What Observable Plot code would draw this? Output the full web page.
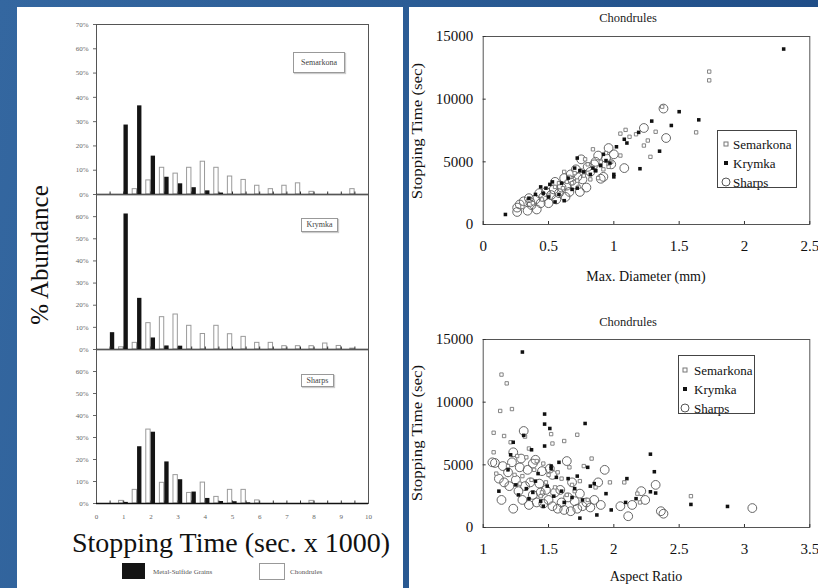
<!DOCTYPE html>
<html><head><meta charset="utf-8">
<script src="https://cdn.jsdelivr.net/npm/d3@7"></script>
<script src="https://cdn.jsdelivr.net/npm/@observablehq/plot@0.6"></script>
<style>
html,body{margin:0;padding:0;background:#244f86;}
#root{position:relative;width:818px;height:588px;overflow:hidden;
 background:linear-gradient(100deg,#3467a0 0%,#2b5c95 45%,#1d4a84 100%);
 font-family:"Liberation Serif","Times New Roman",serif;}
.panel{position:absolute;background:#fff;}
.abs{position:absolute;white-space:nowrap;line-height:1;}
.plot{position:absolute;}
.lbox{position:absolute;border:1px solid #444;overflow:visible;}
.tag{position:absolute;border:1px solid #999;box-shadow:1px 1px 1px #ccc;font-size:8px;color:#444;line-height:1;padding:0;text-align:center;background:#fff;}
</style></head><body><div id="root">
<div class="panel" style="left:17px;top:7px;width:386px;height:581px"></div>
<div class="panel" style="left:409px;top:7px;width:409px;height:581px"></div>
</div>
<script>
// ---------- Histogram data (% abundance per 500 s bin) ----------
const bins = [0.5,1,1.5,2,2.5,3,3.5,4,4.5,5,5.5,6,6.5,7,7.5,8,8.5,9,9.5];
const yTicksTop = [0,10,20,30,40,50,60,70];
const yTicksLow = [0,10,20,30,40,50,60];
const xTicksHist = [0,1,2,3,4,5,6,7,8,9,10];
const semarkonaMetal = [0,28.6,36.5,15.8,7.1,4.4,2.8,1.5,0.6,0,0,0,0,0,0,0,0,0,0];
const semarkonaChond = [0,0,2.2,5.8,11,8.6,11,13.5,11,7.4,6,3.6,2.2,3.6,4.6,1.1,0,0,2.2];
const krymkaMetal = [7.6,61.2,23.1,5.2,1.6,1.5,0,0,0,0,0,0,0,0,0,0,0,0,0];
const krymkaChond = [0,1,3,11.9,14.6,15.8,10.7,7,10.7,6.9,5.7,3,3,1.5,1.5,1.5,2.7,1.6,0.4];
const sharpsMetal = [0,0.5,25.8,32.4,18.9,10.8,5.2,2.3,0.9,0.8,0.3,0,0,0,0,0,0,0,0];
const sharpsChond = [0,1.2,6.2,33.6,9.4,12.9,4.8,9.5,3,6.2,6.2,1.4,0,0,0,1.2,0,0,0];
const histNames = ["Semarkona","Krymka","Sharps"];
const histLegend = ["Metal-Sulfide Grains","Chondrules"];

// ---------- Scatter data: [max diameter (mm), stopping time (s)] ----------
const diaSemarkona = [[0.30,1400],[0.38,1700],[0.45,2000],[0.50,2300],[0.55,3000],[0.58,3300],[0.61,2900],[0.62,4200],[0.64,3400],[0.66,3800],[0.68,3300],[0.70,4100],[0.72,3500],[0.73,3000],[0.75,4300],[0.77,3900],[0.78,5200],[0.80,4800],[0.82,3600],[0.84,6000],[0.86,4300],[0.88,3700],[0.90,5000],[0.92,4400],[0.94,5700],[0.96,4600],[0.98,5000],[1.05,5500],[1.05,7250],[1.09,7550],[1.12,7000],[1.17,7200],[1.23,6300],[1.26,6700],[1.28,5400],[1.32,7400],[1.37,9400],[1.63,7350],[1.73,12200],[1.73,11500]];
const diaKrymka = [[0.17,800],[0.35,2100],[0.40,2400],[0.44,3000],[0.46,2500],[0.48,2900],[0.50,2200],[0.51,3200],[0.53,3400],[0.55,1800],[0.58,2400],[0.60,3300],[0.62,1900],[0.65,3700],[0.68,2800],[0.70,4500],[0.72,2900],[0.72,5300],[0.74,4300],[0.77,4200],[0.82,4000],[0.84,4500],[0.86,4300],[0.90,4700],[0.92,5600],[0.94,5100],[0.97,4900],[1.00,4000],[1.00,3800],[1.02,6200],[1.08,6800],[1.10,6500],[1.19,7350],[1.20,4450],[1.29,8250],[1.35,5850],[1.44,7900],[1.50,9000],[1.65,8350],[2.30,14000]];
const diaSharps = [[0.26,1000],[0.26,1350],[0.28,1600],[0.31,1850],[0.34,1100],[0.35,2100],[0.36,1800],[0.37,1550],[0.40,2000],[0.41,1200],[0.43,2500],[0.44,1700],[0.46,2200],[0.48,2600],[0.50,1700],[0.52,2350],[0.54,2800],[0.55,3400],[0.56,2000],[0.58,2500],[0.60,2950],[0.62,3700],[0.63,2200],[0.64,3100],[0.66,2600],[0.67,4000],[0.68,3500],[0.70,3200],[0.71,4400],[0.72,3800],[0.74,2600],[0.75,5200],[0.76,3600],[0.79,2950],[0.80,4600],[0.82,4200],[0.85,4800],[0.86,5000],[0.88,5500],[0.90,3650],[0.92,3800],[0.94,5300],[0.96,6100],[0.98,4800],[1.00,5600],[1.08,4500],[1.23,7700],[1.38,9250],[1.40,6900]];

// ---------- Scatter data: [aspect ratio, stopping time (s)] ----------
const arSemarkona = [[1.08,7560],[1.08,6000],[1.10,4300],[1.13,9300],[1.14,12200],[1.16,7300],[1.18,11500],[1.19,4900],[1.21,6800],[1.22,9450],[1.24,4200],[1.26,5700],[1.28,3500],[1.30,4100],[1.32,7250],[1.33,5600],[1.35,6300],[1.37,3800],[1.39,4600],[1.41,5300],[1.44,2500],[1.45,2800],[1.46,5100],[1.48,3600],[1.50,4200],[1.52,7450],[1.53,6700],[1.55,3200],[1.57,4400],[1.60,3900],[1.62,6900],[1.64,2600],[1.66,4800],[1.68,3400],[1.70,2900],[1.72,7400],[1.74,3700],[1.77,4900],[1.80,2200],[1.83,5500],[1.86,3200],[1.97,3600],[2.08,3600],[2.18,2700],[2.20,2000],[2.59,2500]];
const arKrymka = [[1.12,2900],[1.19,4600],[1.21,5800],[1.23,6800],[1.25,3400],[1.27,2600],[1.30,14000],[1.31,7350],[1.33,3100],[1.35,2300],[1.37,6200],[1.38,2800],[1.40,3700],[1.42,4300],[1.44,2100],[1.46,1700],[1.47,9050],[1.47,8250],[1.47,6500],[1.49,3300],[1.51,7900],[1.52,4900],[1.52,4700],[1.54,2500],[1.56,4000],[1.58,5200],[1.60,2900],[1.62,2000],[1.65,3900],[1.68,2400],[1.70,3100],[1.72,4100],[1.74,750],[1.76,2200],[1.78,8300],[1.80,4800],[1.82,3300],[1.85,3500],[1.87,1000],[1.94,2700],[1.98,1400],[2.09,2000],[2.10,3900],[2.17,2300],[2.28,5850],[2.28,2850],[2.31,4450],[2.32,2750],[2.59,1840],[2.87,1680]];
const arSharps = [[1.07,5200],[1.09,5150],[1.12,3900],[1.14,2200],[1.15,4900],[1.16,3600],[1.19,4400],[1.20,3300],[1.22,5200],[1.23,1500],[1.23,6000],[1.25,3800],[1.27,2900],[1.28,4800],[1.29,5500],[1.30,2200],[1.31,7700],[1.32,3300],[1.34,4600],[1.35,1800],[1.36,3600],[1.38,2600],[1.38,5100],[1.40,5400],[1.41,2000],[1.43,3500],[1.44,2800],[1.45,4500],[1.46,1900],[1.48,3000],[1.50,2200],[1.51,4700],[1.53,1700],[1.53,4200],[1.55,2800],[1.57,1500],[1.59,3000],[1.60,2000],[1.62,1400],[1.64,5300],[1.65,2400],[1.67,1300],[1.68,3600],[1.70,2100],[1.72,1500],[1.74,2700],[1.76,1700],[1.79,2000],[1.82,1600],[1.85,2200],[1.88,3600],[1.90,1800],[1.93,4600],[2.05,1700],[2.11,900],[2.14,1800],[2.21,2900],[2.24,2200],[2.32,3400],[2.36,1300],[2.38,1100],[3.06,1550]];
const seriesNames = ["Semarkona","Krymka","Sharps"];
const scatterTitle = "Chondrules";
const diaTicks = [0,0.5,1,1.5,2,2.5];
const arTicks = [1,1.5,2,2.5,3,3.5];
const stTicks = [0,5000,10000,15000];

const root = document.getElementById("root");
function place(el, left, top){ el.classList.add("plot"); el.style.left = left+"px"; el.style.top = top+"px"; root.appendChild(el); }
function text(str, css){ const d = document.createElement("div"); d.className="abs"; d.textContent = str; Object.assign(d.style, css); root.appendChild(d); return d; }

// ---------- Histograms ----------
function hist(metal, chond, o){
  const rows = bins.map((b,i)=>({bin:b, metal:metal[i], chond:chond[i]}));
  const plotH = o.height - o.mt - o.mb;
  return Plot.plot({
    width: 386, height: o.height,
    marginLeft: 79, marginRight: 35, marginTop: o.mt, marginBottom: o.mb,
    x: {domain:[0,10], ticks: xTicksHist, tickSize: 0, tickPadding: 11, axis: o.xaxis ? "bottom" : null, label: null, tickFormat: d=>String(d)},
    y: {domain:[0,70], ticks: o.yticks, tickFormat: d=>d+"%", tickSize: 3, tickPadding: 5, label: null},
    style: {fontSize:"7px", fontFamily:"Liberation Serif, serif", color:"#666", background:"transparent", overflow:"visible"},
    marks: [
      Plot.rectY(rows, {x1: d=>d.bin-0.17, x2: d=>d.bin-0.01, y: "chond", fill:"white", stroke:"#9a9a9a", strokeWidth:1}),
      Plot.rectY(rows, {x1: d=>d.bin+0.01, x2: d=>d.bin+0.17, y: "metal", fill:"#141414"}),
      Plot.tickX(bins, {x: d=>d, insetTop: plotH-2.5, stroke:"#333"}),
      Plot.frame({stroke:"#555"}),
      Plot.ruleY([0], {stroke:"#111", strokeWidth:1.6})
    ]
  });
}
place(hist(semarkonaMetal, semarkonaChond, {height:184, mt:10, mb:4, yticks:yTicksTop}), 17, 14);
place(hist(krymkaMetal, krymkaChond, {height:163, mt:4, mb:4, yticks:yTicksLow}), 17, 190);
place(hist(sharpsMetal, sharpsChond, {height:178, mt:4, mb:20, yticks:yTicksLow, xaxis:true}), 17, 345);

// histogram tags
[[histNames[0],293,52,50,19],[histNames[1],301,218,35,12],[histNames[2],301,374,31,11]].forEach(([n,l,t,w,h])=>{
  const d=document.createElement("div"); d.className="tag"; d.textContent=n;
  Object.assign(d.style,{left:l+"px",top:t+"px",width:w+"px",height:h+"px",lineHeight:h+"px"}); root.appendChild(d);
});
text("% Abundance", {left:"39px", top:"255px", fontSize:"25px", color:"#111", transform:"translate(-50%,-50%) rotate(-90deg)"});
text("Stopping Time (sec. x 1000)", {left:"231px", top:"543px", fontSize:"28px", color:"#111", transform:"translate(-50%,-50%)"});
// histogram legend
const sw1=document.createElement("div"); Object.assign(sw1.style,{position:"absolute",left:"122px",top:"563px",width:"23px",height:"16px",background:"#141414"}); root.appendChild(sw1);
const sw2=document.createElement("div"); Object.assign(sw2.style,{position:"absolute",left:"259px",top:"563px",width:"24px",height:"15px",background:"#fff",border:"1px solid #999"}); root.appendChild(sw2);
text(histLegend[0], {left:"153px", top:"572px", fontSize:"7px", color:"#555", transform:"translateY(-50%)"});
text(histLegend[1], {left:"290px", top:"572px", fontSize:"7px", color:"#555", transform:"translateY(-50%)"});

// ---------- Scatter plots ----------
function scatter(sem, kry, sha, o){
  const W = 410, H = o.height;
  const pw = W - 74.7 - 8.7, ph = H - o.mt - o.mb;
  return Plot.plot({
    width: W, height: H, marginLeft: 74.7, marginRight: 8.7, marginTop: o.mt, marginBottom: o.mb,
    x: {domain: o.xdomain, ticks: o.xticks, tickSize: 0, tickPadding: 16, tickFormat: d=>String(d), label: null},
    y: {domain: [0,15000], ticks: stTicks, tickSize: 0, tickPadding: 10, tickFormat: d=>String(d), label: null},
    style: {fontSize:"15px", fontFamily:"Liberation Serif, serif", color:"#111", background:"transparent", overflow:"visible"},
    marks: [
      Plot.frame({stroke:"#555"}),
      Plot.tickX(o.xticks, {x: d=>d, insetTop: ph-3, stroke:"#333"}),
      Plot.tickY(stTicks, {y: d=>d, insetRight: pw-3, stroke:"#333"}),
      Plot.dot(sha, {x: d=>d[0], y: d=>d[1], r: 4.4, stroke:"#666", strokeWidth:1, fill:"none"}),
      Plot.dot(sem, {x: d=>d[0], y: d=>d[1], r: 1.9, symbol:"square", stroke:"#777", strokeWidth:0.9, fill:"white"}),
      Plot.dot(kry, {x: d=>d[0], y: d=>d[1], r: 2, symbol:"square", fill:"#111", stroke:"none"})
    ]
  });
}
place(scatter(diaSemarkona, diaKrymka, diaSharps, {height:285, mt:29, mb:68, xdomain:[0,2.5], xticks:diaTicks}), 408, 7);
place(scatter(arSemarkona, arKrymka, arSharps, {height:279, mt:30, mb:61, xdomain:[1,3.5], xticks:arTicks}), 408, 309);

text(scatterTitle, {left:"628px", top:"18px", fontSize:"12.5px", color:"#222", transform:"translate(-50%,-50%)"});
text(scatterTitle, {left:"628px", top:"322px", fontSize:"12.5px", color:"#222", transform:"translate(-50%,-50%)"});
text("Stopping Time (sec)", {left:"418px", top:"131px", fontSize:"14px", color:"#111", transform:"translate(-50%,-50%) rotate(-90deg) scaleX(1.2)"});
text("Stopping Time (sec)", {left:"418px", top:"433px", fontSize:"14px", color:"#111", transform:"translate(-50%,-50%) rotate(-90deg) scaleX(1.2)"});
text("Max. Diameter (mm)", {left:"646px", top:"277px", fontSize:"14px", color:"#111", transform:"translate(-50%,-50%)"});
text("Aspect Ratio", {left:"646px", top:"577px", fontSize:"14px", color:"#111", transform:"translate(-50%,-50%)"});

function legendBox(left, top, w, h, symX, txtX, ys){
  const box=document.createElement("div"); box.className="lbox";
  Object.assign(box.style,{left:left+"px",top:top+"px",width:w+"px",height:h+"px"});
  const sty=[{width:"3px",height:"3px",border:"1px solid #777",background:"#fff"},{width:"4px",height:"4px",background:"#111"},{width:"7px",height:"7px",border:"1px solid #555",borderRadius:"50%"}];
  seriesNames.forEach((n,i)=>{
    const s=document.createElement("div"); Object.assign(s.style,{position:"absolute",left:symX+"px",top:ys[i]+"px",transform:"translate(-50%,-50%)"},sty[i]); root.appendChild(s);
    const t=document.createElement("div"); t.className="abs"; t.textContent=n;
    Object.assign(t.style,{left:txtX+"px",top:ys[i]+"px",fontSize:"13px",color:"#111",transform:"translateY(-50%)"}); root.appendChild(t);
  });
  root.appendChild(box);
}
legendBox(716.7,130,78.3,56, 725.7, 733, [144,163,182]);
legendBox(677.7,355,75.6,57, 685, 694, [370,389,408]);
</script></body></html>
